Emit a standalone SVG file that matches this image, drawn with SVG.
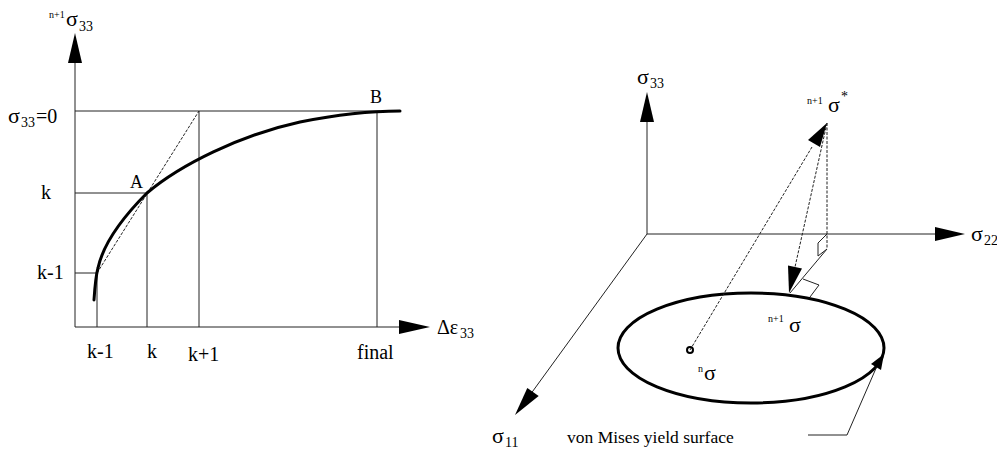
<svg xmlns="http://www.w3.org/2000/svg" width="997" height="454" viewBox="0 0 997 454" font-family="'Liberation Serif', 'DejaVu Serif', serif">
<style>
text{font-family:"Liberation Serif","DejaVu Serif",serif;fill:#000}
.thin{stroke:#222;stroke-width:1;fill:none}
.dash{stroke:#222;stroke-width:1;fill:none;stroke-dasharray:3 1.5}
.thick{stroke:#000;stroke-width:3;fill:none;stroke-linecap:round}
.head{fill:#000;stroke:none}
.lbl{font-size:20px}
.sig{font-size:22px}
.sub{font-size:14px}
.sup{font-size:10px}
</style>
<rect width="997" height="454" fill="#fff"/>
<g id="left-plot">
  <g id="left-axes">
    <line class="thin" x1="75" y1="327" x2="75" y2="60"/>
    <polygon class="head" points="75,33 68,63 82,63"/>
    <line class="thin" x1="75" y1="327" x2="402" y2="327"/>
    <polygon class="head" points="430,327 399,320 399,334"/>
  </g>
  <g id="left-grid">
    <line class="thin" x1="75" y1="111" x2="380" y2="111"/>
    <line class="thin" x1="75" y1="193" x2="147" y2="193"/>
    <line class="thin" x1="75" y1="273" x2="97" y2="273"/>
    <line class="thin" x1="97" y1="273" x2="97" y2="327"/>
    <line class="thin" x1="147" y1="193" x2="147" y2="327"/>
    <line class="thin" x1="199" y1="111" x2="199" y2="327"/>
    <line class="thin" x1="377" y1="111" x2="377" y2="327"/>
    <line class="dash" x1="97" y1="273" x2="199" y2="111"/>
  </g>
  <path id="curve" class="thick" d="M94,300 C95,285 96,275 98,268 C103,245 120,220 147,193 C180,165 240,135 300,122 C340,114 370,111 400,111"/>
  <g id="left-labels" font-family="'Liberation Serif', serif">
    <text class="sup" x="49" y="18">n+1</text>
    <text class="sig" x="66" y="26">σ</text>
    <text class="sub" x="79" y="31">33</text>
    <text class="sig" x="8" y="123">σ</text>
    <text class="sub" x="21" y="127">33</text>
    <text class="lbl" x="36" y="123">=0</text>
    <text class="lbl" x="41" y="199">k</text>
    <text class="lbl" x="37" y="279">k-1</text>
    <text style="font-size:18px" x="130" y="188">A</text>
    <text style="font-size:18px" x="370" y="103">B</text>
    <text class="lbl" x="87" y="358">k-1</text>
    <text class="lbl" x="147" y="358">k</text>
    <text class="lbl" x="188" y="361">k+1</text>
    <text class="lbl" x="357" y="359">final</text>
    <text class="lbl" x="437" y="334">Δε</text>
    <text class="sub" x="460" y="338">33</text>
  </g>
</g>
<g id="right-plot">
  <g id="right-axes">
    <line class="thin" x1="647" y1="234" x2="647" y2="118"/>
    <polygon class="head" points="647,92 640,122 654,122"/>
    <line class="thin" x1="647" y1="234" x2="938" y2="234"/>
    <polygon class="head" points="965,234 935,227 935,241"/>
    <line class="thin" x1="647" y1="234" x2="530" y2="395"/>
    <polygon class="head" points="515,415 527.3,387.9 538.7,396.1"/>
  </g>
  <ellipse id="yield-surface" class="thick" cx="751" cy="348" rx="133" ry="55"/>
  <g id="connectors">
    <line class="dash" x1="690" y1="350" x2="812" y2="147"/>
    <polygon class="head" points="827,123 808,140 820,147"/>
    <line class="dash" x1="827" y1="123" x2="795" y2="267"/>
    <polygon class="head" points="789,293 788,265.5 802,268.5"/>
    <line class="dash" x1="827" y1="123" x2="827" y2="249"/>
    <polyline class="thin" points="827,234 818,243 818,256 827,249"/>
    <line class="thin" x1="827" y1="249" x2="790" y2="293"/>
    <polyline class="thin" points="803,279 819,285 810,297"/>
    <polyline class="thin" points="808,435 847,435 877,366"/>
    <polygon class="head" points="884,354 871,364 881,370"/>
  </g>
  <circle id="n-sigma-point" cx="690" cy="350" r="3" fill="none" stroke="#000" stroke-width="2"/>
  <g id="right-labels" font-family="'Liberation Serif', serif">
    <text class="sig" x="637" y="84">σ</text>
    <text class="sub" x="650" y="88">33</text>
    <text class="sig" x="971" y="241">σ</text>
    <text class="sub" x="984" y="245">22</text>
    <text class="sig" x="492" y="443">σ</text>
    <text class="sub" x="505" y="447">11</text>
    <text class="sup" x="807" y="104">n+1</text>
    <text class="sig" x="828" y="112">σ</text>
    <text class="sub" x="841" y="101">*</text>
    <text class="sup" x="768" y="322">n+1</text>
    <text class="sig" x="789" y="332">σ</text>
    <text class="sup" x="698" y="372">n</text>
    <text class="sig" x="704" y="380">σ</text>
    <text style="font-size:17.5px" x="567" y="443">von Mises yield surface</text>
  </g>
</g>
</svg>
